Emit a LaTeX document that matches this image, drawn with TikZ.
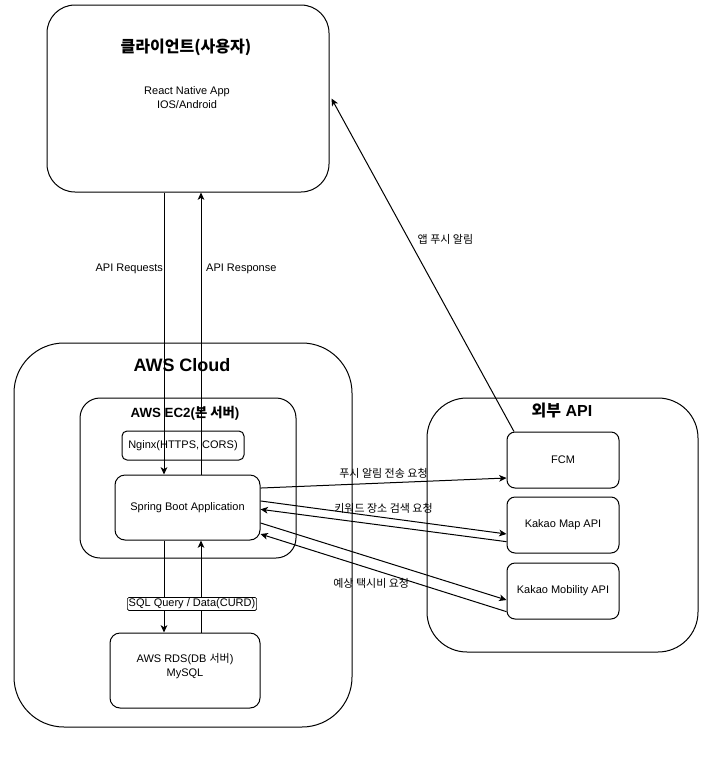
\documentclass[tikz,border=0pt]{standalone}
\usepackage{fontspec}
\setmainfont{Liberation Sans}
\newfontfamily\krfont{Noto Sans CJK KR}
\newcommand{\kr}[1]{{\krfont #1}}
\usetikzlibrary{arrows.meta,positioning}

\begin{document}
\begin{tikzpicture}[x=0.75pt, y=-0.75pt, line width=0.75pt,
    box/.style={draw, rounded corners=#1, inner sep=0pt},
    box/.default=7.5pt,
    title/.style={font=\bfseries\fontsize{12pt}{14pt}\selectfont},
    txt/.style={font=\fontsize{8.25pt}{10.5pt}\selectfont, align=center},
    lbl/.style={font=\fontsize{8.25pt}{10pt}\selectfont, inner sep=1.5pt},
    arr/.style={-{Stealth[length=5.5pt,width=5pt,inset=1.5pt]}}]
    \useasboundingbox (0,0) rectangle (717,758);

    % client
    \node[box=21pt, minimum width=211.5pt, minimum height=140.25pt] (client) at (188,98.5) {};
    \node[title] (clientT) at (186,47) {\kr{클라이언트(사용자)}};
    \node[txt] (clientB) at (187,98) {React Native App\\IOS/Android};

    % aws
    \node[box=37.5pt, minimum width=253.5pt, minimum height=288pt] (aws) at (183,535) {};
    \node[font=\bfseries\fontsize{13.5pt}{16pt}\selectfont] (awsT) at (182,365) {AWS Cloud};
    \node[box=15pt, minimum width=162pt, minimum height=120pt] (ec2) at (188,478) {};
    \node[font=\bfseries\fontsize{10pt}{12pt}\selectfont] (ec2T) at (185,413) {AWS EC2(\kr{본 서버})};
    \node[box=3.75pt, minimum width=91.5pt, minimum height=21.75pt, txt] (nginx) at (183,445.5) {Nginx(HTTPS, CORS)};
    \node[box, minimum width=108.75pt, minimum height=48.75pt, txt] (spring) at (187.5,507.5) {Spring Boot Application};
    \node[box, minimum width=112.5pt, minimum height=56.25pt, txt, text depth=8pt] (rds) at (185,670.5) {AWS RDS(DB \kr{서버})\\MySQL};

    % external
    \node[box=30pt, minimum width=203.25pt, minimum height=190.5pt] (ext) at (562.5,525) {};
    \node[title] (extT) at (562,411) {\kr{외부} API};
    \node[box=6pt, minimum width=84pt, minimum height=42pt, txt] (fcm) at (563,460) {FCM};
    \node[box=6pt, minimum width=84pt, minimum height=42pt, txt] (kmap) at (563,525) {Kakao Map API};
    \node[box=6pt, minimum width=84pt, minimum height=42pt, txt] (kmob) at (563,591) {Kakao Mobility API};

    \coordinate (reqx) at (164,0);
    \coordinate (resx) at (201,0);
    \draw[arr] (client.south -| reqx) -- node[lbl, pos=0.272, anchor=east, inner sep=0.5pt] (reqL) {API Requests} (spring.north -| reqx);
    \draw[arr] (spring.north -| resx) -- node[lbl, pos=0.728, anchor=west, inner sep=3.5pt] (resL) {API Response} (client.south -| resx);
    \draw[arr] (rds.north -| resx) -- (spring.south -| resx);
    \draw[arr] (spring.south -| reqx) -- node[lbl, pos=0.69, xshift=21pt, fill=white, draw, rounded corners=1pt, line width=0.5pt, inner sep=1pt] (sqlL) {SQL Query / Data(CURD)} (rds.north -| reqx);

    \draw[arr] ([yshift=14.6pt]spring.east) -- node[lbl, above=1.5pt] (pushL) {\kr{푸시 알림 전송 요청}} ([yshift=-13.5pt]fcm.west);
    \draw[arr] ([yshift=4.9pt]spring.east) -- node[lbl, above=1.5pt] (kwL) {\kr{키워드 장소 검색 요청}} ([yshift=-6.75pt]kmap.west);
    \draw[arr] ([yshift=-12.5pt]kmap.west) -- ([yshift=-1.35pt]spring.east);
    \draw[arr] ([yshift=-11.6pt]spring.east) -- ([yshift=-6.75pt]kmob.west);
    \draw[arr] ([yshift=-15.5pt]kmob.west) -- node[lbl, pos=0.55, below=5pt] (taxiL) {\kr{예상 택시비 요청}} ([yshift=-19.9pt]spring.east);
    \draw[arr] ([xshift=-36.75pt]fcm.north) -- node[lbl, pos=0.578, right=5pt] (appL) {\kr{앱 푸시 알림}} ([xshift=1.5pt]client.east);
\end{tikzpicture}
\end{document}
